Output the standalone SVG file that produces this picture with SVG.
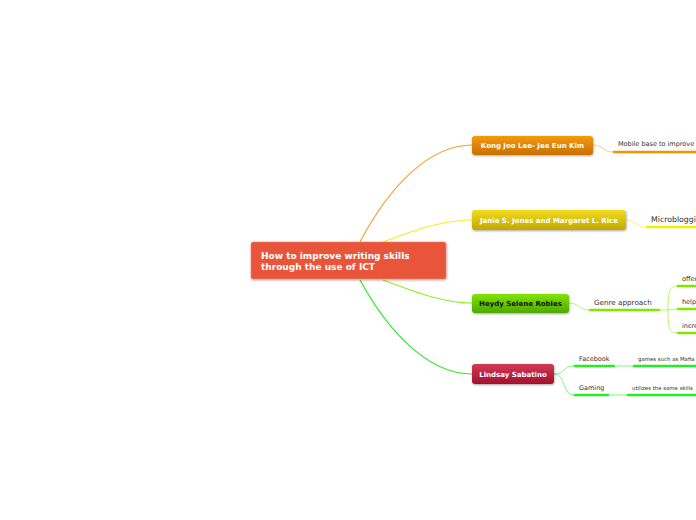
<svg xmlns="http://www.w3.org/2000/svg" width="696" height="520" viewBox="0 0 696 520">
<style>
.t{font-family:"DejaVu Sans",Verdana,sans-serif;}
.nb{font-family:"DejaVu Sans",Verdana,sans-serif;font-weight:bold;font-size:7px;}
.sub{font-family:"DejaVu Sans",Verdana,sans-serif;font-size:6.5px;fill:#333;}
.c{fill:none;stroke-width:1.2;}
.u{fill:none;stroke-width:2.5;stroke-linecap:round;}
.thin{fill:none;stroke-width:0.8;}
</style>
<defs>
<linearGradient id="gOr" x1="0" y1="0" x2="0" y2="1"><stop offset="0" stop-color="#f39a10"/><stop offset="1" stop-color="#c97000"/></linearGradient>
<linearGradient id="gYe" x1="0" y1="0" x2="0" y2="1"><stop offset="0" stop-color="#f2dc20"/><stop offset="1" stop-color="#c2a800"/></linearGradient>
<linearGradient id="gGr" x1="0" y1="0" x2="0" y2="1"><stop offset="0" stop-color="#80e400"/><stop offset="1" stop-color="#4fa800"/></linearGradient>
<linearGradient id="gRe" x1="0" y1="0" x2="0" y2="1"><stop offset="0" stop-color="#d33a55"/><stop offset="1" stop-color="#a3102e"/></linearGradient>
<filter id="sh" x="-10%" y="-20%" width="120%" height="150%"><feDropShadow dx="0.5" dy="1" stdDeviation="0.8" flood-color="#000" flood-opacity="0.35"/></filter>
</defs>
<rect width="696" height="520" fill="#ffffff"/>
<g id="connectors">
<path class="c" stroke="#f7a030" d="M360,242 C390,185 430,145 472,145"/>
<path class="c" stroke="#f3f020" d="M383,242 C420,228 445,220 472,220"/>
<path class="c" stroke="#8cf020" d="M383,280 C420,294 445,303 472,303"/>
<path class="c" stroke="#30e830" d="M360,280 C390,335 430,374 472,374"/>
<path class="thin" stroke="#f7c070" d="M593,145 C603,145 603,152 613,152"/>
<path class="u" stroke="#f39200" d="M614,152 L696,152"/>
<path class="thin" stroke="#f0f060" d="M626,220 C636,220 636,227 646,227"/>
<path class="u" stroke="#f0f000" d="M647,227 L696,227"/>
<path class="thin" stroke="#a8f050" d="M569,303 C579,303 579,310 589,310"/>
<path class="u" stroke="#80e800" d="M590,310 L659,310"/>
<path class="thin" stroke="#a8f050" d="M659,310 L668,310 C668,290 670,286 677,286 M668,310 L677,309 M668,310 C668,330 670,333 677,333"/>
<path class="u" stroke="#80e800" d="M678,286 L696,286 M678,309 L696,309 M678,333 L696,333"/>
<path class="thin" stroke="#60f060" d="M554,374 C566,374 562,366 574,366 M554,374 C566,374 562,395 574,395"/>
<path class="u" stroke="#22ee22" d="M575,366 L614,366 M575,395 L608,395"/>
<path class="thin" stroke="#60f060" d="M614,366 L633,366 M608,395 L627,395"/>
<path class="u" stroke="#22ee22" d="M634,366 L696,366 M628,395 L696,395"/>
</g>
<g id="central">
<rect x="251" y="242" width="195" height="37" rx="2" fill="#e9553a" stroke="#f08870" stroke-width="0.6" filter="url(#sh)"/>
<text class="t" x="261" y="259" font-size="9" font-weight="bold" fill="#ffffff">How to improve writing skills</text>
<text class="t" x="261" y="270" font-size="9" font-weight="bold" fill="#ffffff">through the use of ICT</text>
</g>
<g id="n1">
<rect x="472" y="136" width="121" height="19" rx="3" fill="url(#gOr)" filter="url(#sh)"/>
<text class="nb" x="532.5" y="148" text-anchor="middle" fill="#ffffff">Kong Joo Lee- Jee Eun Kim</text>
</g>
<g id="n2">
<rect x="472" y="210" width="154" height="20" rx="3" fill="url(#gYe)" filter="url(#sh)"/>
<text class="nb" x="549" y="223" text-anchor="middle" fill="#ffffff">Janie S. Jones and Margaret L. Rice</text>
</g>
<g id="n3">
<rect x="472" y="294" width="97" height="19" rx="3" fill="url(#gGr)" filter="url(#sh)"/>
<text class="nb" x="520.5" y="306" text-anchor="middle" fill="#111111">Heydy Selene Robles</text>
</g>
<g id="n4">
<rect x="472" y="364" width="82" height="20" rx="3" fill="url(#gRe)" filter="url(#sh)"/>
<text class="nb" x="513" y="377" text-anchor="middle" fill="#ffffff">Lindsay Sabatino</text>
</g>
<g id="s1"><text class="sub" x="618" y="146">Mobile base to improve</text></g>
<g id="s2"><text class="sub" x="651" y="222" style="font-size:7.8px">Microbloggi</text></g>
<g id="s3"><text class="sub" x="594" y="305" style="font-size:7.2px">Genre approach</text></g>
<g id="s3a"><text class="sub" x="682" y="281">offer</text></g>
<g id="s3b"><text class="sub" x="682" y="304">help</text></g>
<g id="s3c"><text class="sub" x="682" y="328">incre</text></g>
<g id="s4"><text class="sub" x="579" y="361">Facebook</text></g>
<g id="s5"><text class="sub" x="579" y="390">Gaming</text></g>
<g id="s4a"><text class="sub" x="638" y="361" style="font-size:5.4px">games such as Mafia</text></g>
<g id="s5a"><text class="sub" x="632" y="390" style="font-size:5.4px">utilizes the same skills</text></g>
</svg>
